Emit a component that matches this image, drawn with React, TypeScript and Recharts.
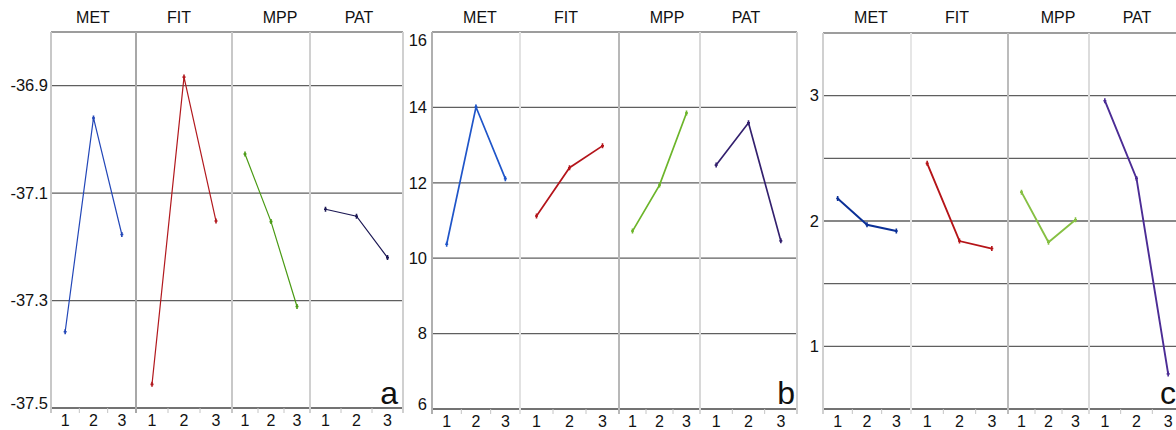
import React from "react";
import { Line, LineChart, ReferenceLine, XAxis, YAxis } from "recharts";

// factor groups and their three levels
const groups = ["MET", "FIT", "MPP", "PAT"];
const levels = [1, 2, 3];

// panel a
const metA = [-37.358, -36.96, -37.177];
const fitA = [-37.456, -36.884, -37.152];
const mppA = [-37.027, -37.153, -37.311];
const patA = [-37.13, -37.143, -37.22];
const ticksA = [-37.5, -37.3, -37.1, -36.9];
const gridA = [-37.3, -37.1, -36.9];

// panel b
const metB = [10.37, 14.01, 12.11];
const fitB = [11.12, 12.4, 12.98];
const mppB = [10.72, 11.94, 13.85];
const patB = [12.47, 13.59, 10.46];
const ticksB = [6, 8, 10, 12, 14, 16];
const gridB = [8, 10, 12, 14];

// panel c
const metC = [2.18, 1.97, 1.92];
const fitC = [2.46, 1.84, 1.78];
const mppC = [2.23, 1.83, 2.01];
const patC = [2.96, 2.34, 0.78];
const ticksC = [1, 2, 3];
const gridC = [1, 1.5, 2, 2.5, 3];

const FONT = '"Liberation Sans", Arial, sans-serif';

const panels = [
  {
    letter: "a",
    letterRight: 398,
    chartLeft: 0,
    labelGap: 3,
    top: 32,
    bottom: 408,
    edges: [51, 136, 232, 310, 403],
    titleX: [93, 179, 280, 359],
    series: [metA, fitA, mppA, patA],
    domain: [-37.5, -36.8],
    ticks: ticksA,
    grid: gridA,
    lineW: 1.2,
    colors: ["#2347b8", "#b2191e", "#4a9a14", "#1c1854"],
    edgeColors: ["#c8c8c8", "#a8a8a8", "#c8c8c8", "#d0d0d0", "#d0d0d0"],
    edgeW: [1.5, 2, 1.5, 1.5, 1.5],
  },
  {
    letter: "b",
    letterRight: 795,
    chartLeft: 403,
    labelGap: 5,
    top: 32,
    bottom: 409,
    edges: [432, 520, 619, 700, 797],
    titleX: [480, 566, 667, 746],
    series: [metB, fitB, mppB, patB],
    domain: [6, 16],
    ticks: ticksB,
    grid: gridB,
    lineW: 1.7,
    colors: ["#1f55c9", "#b4141a", "#6cb52a", "#33206e"],
    edgeColors: ["#b0b0b0", "#e2e2e2", "#b8b8b8", "#d8d8d8", "#d0d0d0"],
    edgeW: [1.5, 1.5, 2, 1.5, 1.5],
  },
  {
    letter: "c",
    letterRight: 1176,
    chartLeft: 797,
    labelGap: 4,
    top: 33,
    bottom: 409,
    edges: [823, 911, 1008, 1089, 1184],
    titleX: [871, 957, 1058, 1137],
    series: [metC, fitC, mppC, patC],
    domain: [0.5, 3.5],
    ticks: ticksC,
    grid: gridC,
    lineW: 1.9,
    colors: ["#0b3097", "#b51418", "#86c043", "#4b2c95"],
    edgeColors: ["#d0d0d0", "#e6e6e6", "#bcbcbc", "#dcdcdc", "#d0d0d0"],
    edgeW: [1.5, 1.5, 2, 1.5, 1.5],
  },
];

// band edges and centres for the level axis
const xTicks = levels
  .flatMap((l) => [l - 0.5, l])
  .concat(levels[levels.length - 1] + 0.5);

function renderDot(color: string) {
  return (props: any) => {
    const { cx, cy, index } = props;
    if (cx == null || cy == null) return <g key={`d${index}`} />;
    return (
      <path
        key={`d${index}`}
        d={`M${cx},${cy - 2.5}V${cy + 2.5}M${cx - 1.5},${cy}H${cx + 1.5}`}
        stroke={color}
        strokeWidth={1.6}
        fill="none"
      />
    );
  };
}

function XTick(props: any) {
  const { x, y, payload } = props;
  const v = payload.value;
  if (!Number.isInteger(v)) {
    return <line x1={x} x2={x} y1={y} y2={y + 5} stroke="#c4c4c4" strokeWidth={1} />;
  }
  return (
    <text x={x} y={y + 18} textAnchor="middle" fontSize={16} fontFamily={FONT} fill="#111">
      {v}
    </text>
  );
}

function SubPanel({ panel, idx }: { panel: any; idx: number }) {
  const first = idx === 0;
  const left = first ? panel.chartLeft : panel.edges[idx];
  const width = panel.edges[idx + 1] - left;
  const data = levels.map((x, i) => ({ x, v: panel.series[idx][i] }));
  const color = panel.colors[idx];

  const yTick = (props: any) => {
    const { x, y, payload } = props;
    const yy = Math.min(Math.max(y, panel.top + 8), panel.bottom - 5);
    return (
      <text x={x} y={yy} dy="0.35em" textAnchor="end" fontSize={16.5} fontFamily={FONT} fill="#111">
        {payload.value}
      </text>
    );
  };

  return (
    <div style={{ position: "absolute", left, top: 0 }}>
      <LineChart
        width={width}
        height={430}
        data={data}
        margin={{ top: panel.top, right: 0, bottom: 0, left: 0 }}
      >
        <XAxis
          dataKey="x"
          type="number"
          domain={[0.5, 3.5]}
          ticks={xTicks}
          interval={0}
          allowDataOverflow
          tickLine={false}
          tickSize={0}
          tickMargin={0}
          height={430 - panel.bottom}
          axisLine={{ stroke: "#454545", strokeWidth: 1.6 }}
          tick={<XTick />}
        />
        <YAxis
          type="number"
          domain={panel.domain}
          ticks={panel.ticks}
          interval={0}
          allowDataOverflow
          hide={!first}
          width={first ? panel.edges[0] - panel.chartLeft : 0}
          axisLine={false}
          tickLine={false}
          tickSize={0}
          tickMargin={panel.labelGap}
          tick={yTick}
        />
        {panel.grid.map((g: number) => (
          <ReferenceLine key={g} y={g} stroke="#5f5f5f" strokeWidth={1.3} />
        ))}
        <ReferenceLine y={panel.domain[1]} stroke="#7c7c7c" strokeWidth={1.3} />
        <Line
          type="linear"
          dataKey="v"
          stroke={color}
          strokeWidth={panel.lineW}
          dot={renderDot(color)}
          activeDot={false}
          isAnimationActive={false}
        />
      </LineChart>
    </div>
  );
}

export default function App() {
  return (
    <div
      style={{
        position: "fixed",
        left: 0,
        top: 0,
        width: 1176,
        height: 430,
        overflow: "hidden",
        background: "#fff",
        fontFamily: FONT,
      }}
    >
      {panels.map((panel) => (
        <React.Fragment key={panel.letter}>
          {groups.map((g, i) => (
            <SubPanel key={g} panel={panel} idx={i} />
          ))}
          {panel.edges.map((ex: number, j: number) => (
            <div
              key={`e${j}`}
              style={{
                position: "absolute",
                left: ex - panel.edgeW[j] / 2,
                top: panel.top,
                width: panel.edgeW[j],
                height: panel.bottom - panel.top + 5,
                background: panel.edgeColors[j],
              }}
            />
          ))}
          {groups.map((g, i) => (
            <div
              key={`t${g}`}
              style={{
                position: "absolute",
                left: panel.titleX[i] - 40,
                width: 80,
                top: 9,
                lineHeight: "17px",
                fontSize: 16,
                textAlign: "center",
                color: "#111",
              }}
            >
              {g}
            </div>
          ))}
          <div
            style={{
              position: "absolute",
              left: panel.letterRight - 40,
              width: 40,
              top: 377,
              lineHeight: "32px",
              fontSize: 32,
              textAlign: "right",
              color: "#111",
            }}
          >
            {panel.letter}
          </div>
        </React.Fragment>
      ))}
    </div>
  );
}
